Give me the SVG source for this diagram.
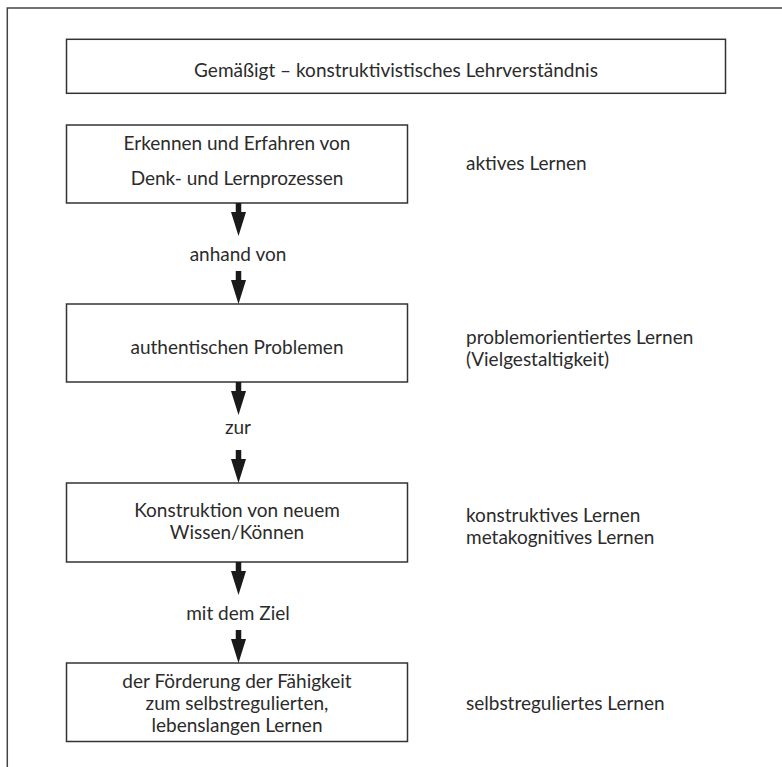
<svg xmlns="http://www.w3.org/2000/svg" width="782" height="767" viewBox="0 0 782 767">
<defs>
<style>
.box{fill:#fff;stroke:#333;stroke-width:1.5}
.t{font-family:Lato,"Liberation Sans",sans-serif;font-size:19px;fill:#2b2b2b}
.c{text-anchor:middle}
.arr{fill:#1a1a1a}
</style>
<path id="ah" d="M-2.75,0 H2.75 V9 H7.5 L0,33 L-7.5,9 H-2.75 Z"/>
</defs>
<rect width="782" height="767" fill="#fff"/>
<path d="M7.3,767 V8 H782" fill="none" stroke="#444" stroke-width="1.5"/>
<g id="title"><rect class="box" x="66.5" y="39.3" width="659" height="54"/><text class="t c" x="396" y="77">Gemäßigt – konstruktivistisches Lehrverständnis</text></g>
<g id="n1"><rect class="box" x="66.5" y="125" width="341" height="78"/><text class="t c" x="237" y="150">Erkennen und Erfahren von</text><text class="t c" x="237" y="185">Denk- und Lernprozessen</text></g>
<g id="n2"><rect class="box" x="66.5" y="304" width="341" height="78"/><text class="t c" x="237" y="354">authentischen Problemen</text></g>
<g id="n3"><rect class="box" x="66.5" y="483" width="341" height="79"/><text class="t c" x="237" y="517">Konstruktion von neuem</text><text class="t c" x="237" y="539">Wissen/Können</text></g>
<g id="n4"><rect class="box" x="66.5" y="663" width="341" height="78.5"/><text class="t c" x="237" y="688">der Förderung der Fähigkeit</text><text class="t c" x="237" y="710">zum selbstregulierten,</text><text class="t c" x="237" y="732">lebenslangen Lernen</text></g>
<g id="connectors" class="arr">
<use href="#ah" x="238.5" y="203"/>
<use href="#ah" x="238.5" y="271"/>
<use href="#ah" x="238.5" y="382"/>
<use href="#ah" x="238.5" y="450"/>
<use href="#ah" x="238.5" y="562"/>
<use href="#ah" x="238.5" y="630"/>
<text class="t c" x="238" y="261">anhand von</text>
<text class="t c" x="238" y="434">zur</text>
<text class="t c" x="238" y="620">mit dem Ziel</text>
</g>
<g id="labels">
<text class="t" x="466" y="170">aktives Lernen</text>
<text class="t" x="466" y="344">problemorientiertes Lernen</text>
<text class="t" x="466" y="366">(Vielgestaltigkeit)</text>
<text class="t" x="466" y="522">konstruktives Lernen</text>
<text class="t" x="466" y="544">metakognitives Lernen</text>
<text class="t" x="466" y="710">selbstreguliertes Lernen</text>
</g>
</svg>
